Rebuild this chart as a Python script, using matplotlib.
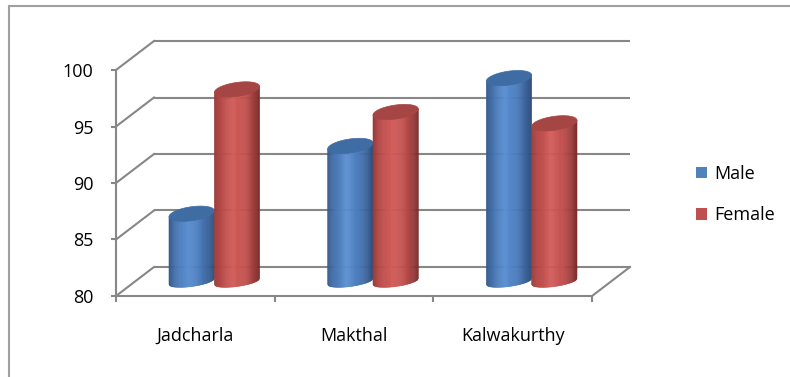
import numpy as np
import matplotlib
matplotlib.use("Agg")
import matplotlib.pyplot as plt
from matplotlib.collections import PolyCollection
from matplotlib.patches import Polygon, Rectangle, Patch

# ---- data ----
categories = ["Jadcharla", "Makthal", "Kalwakurthy"]
series_names = ["Male", "Female"]
male = [86, 92, 98]
female = [97, 95, 94]
y_ticks = [80, 85, 90, 95, 100]

# ---- style ----
plt.rcParams['font.family'] = ['Open Sans', 'DejaVu Sans']
FS = 13
GRID = '#878787'
legend_colors = ['#4F81BD', '#C0504D']
# cylinder shading stops (position, rgb)
shade_stops = [
    [(0.0, (52, 88, 140)), (0.15, (68, 114, 174)), (0.42, (90, 143, 210)),
     (0.7, (72, 121, 184)), (0.9, (56, 94, 148)), (1.0, (44, 76, 122))],
    [(0.0, (150, 58, 56)), (0.15, (182, 72, 70)), (0.42, (210, 92, 89)),
     (0.7, (192, 80, 77)), (0.9, (152, 58, 56)), (1.0, (118, 44, 43))],
]
top_colors = ['#3F6CA3', '#A64644']

W, H = 790, 377
fig = plt.figure(figsize=(W / 100, H / 100), dpi=100)
ax = fig.add_axes([116 / W, 81 / H, 476 / W, 226 / H])
ax.set_xlim(0, 3)
ax.set_ylim(80, 100)
ax.patch.set_alpha(0)

# depth offset (data units): back wall = front shifted right & up
DX = 38 / (476 / 3)
DY = 29 / (226 / 20)

ymin, ymax = y_ticks[0], y_ticks[-1]
ncat = len(categories)

# back wall gridlines + left wall diagonals
for v in y_ticks:
    ax.plot([DX, ncat + DX], [v + DY, v + DY], color=GRID, lw=1.5,
            clip_on=False, zorder=1, solid_capstyle='butt')
    ax.plot([0, DX], [v, v + DY], color=GRID, lw=1.5, clip_on=False, zorder=1)
# floor right edge
ax.plot([ncat, ncat + DX], [ymin, ymin + DY], color=GRID, lw=1.5,
        clip_on=False, zorder=1)

# spines / ticks
for s in ['top', 'right']:
    ax.spines[s].set_visible(False)
for s in ['left', 'bottom']:
    ax.spines[s].set_color(GRID)
    ax.spines[s].set_linewidth(1.5)
    ax.spines[s].set_zorder(1)
ax.set_yticks(y_ticks)
ax.set_yticklabels([str(v) for v in y_ticks])
ax.tick_params(axis='y', direction='out', length=3.6, width=1.5, color=GRID,
               pad=12.5, labelsize=FS, labelcolor='black')
ax.set_xticks(np.arange(ncat + 1))
ax.set_xticklabels([''] * (ncat + 1))
ax.tick_params(axis='x', which='major', direction='out', length=4.5,
               width=1.5, color=GRID)
ax.set_xticks(np.arange(ncat) + 0.5, minor=True)
ax.set_xticklabels(categories, minor=True)
ax.tick_params(axis='x', which='minor', length=0, pad=22.5,
               labelsize=FS, labelcolor='black')


def grad_color(stops, f):
    ps = [p for p, _ in stops]
    cs = np.array([c for _, c in stops], dtype=float)
    return tuple(np.interp(f, ps, cs[:, i]) / 255 for i in range(3))


# cylinders
w = 1 / 3.5
a = w / 2
b_top = 7 / (226 / 20)
b_bot = 5 / (226 / 20)
sh = 3 / (226 / 20)
N = 48
series = [male, female]
for i in range(ncat):
    for j, vals in enumerate(series):
        xc = i + 0.5 + (j - 0.5) * w + DX / 2
        y0 = ymin + DY / 2
        y1 = vals[i] + DY / 2
        z = 3 + j + i * 3
        edges = np.linspace(xc - a, xc + a, N + 1)
        polys, cols = [], []
        for k in range(N):
            xa, xb = edges[k], edges[k + 1]
            ta = np.arccos(np.clip((xa - xc) / a, -1, 1))
            tb = np.arccos(np.clip((xb - xc) / a, -1, 1))
            ya0 = y0 - b_bot * np.sin(ta) + sh * np.cos(ta)
            yb0 = y0 - b_bot * np.sin(tb) + sh * np.cos(tb)
            ya1 = y1 + sh * np.cos(ta)
            yb1 = y1 + sh * np.cos(tb)
            polys.append([(xa, ya0), (xb, yb0), (xb, yb1), (xa, ya1)])
            cols.append(grad_color(shade_stops[j], (k + 0.5) / N))
        pc = PolyCollection(polys, facecolors=cols, edgecolors=cols,
                            linewidths=0.4, clip_on=False, zorder=z)
        ax.add_collection(pc)
        t = np.linspace(0, 2 * np.pi, 120)
        ell = np.column_stack([xc + a * np.cos(t),
                               y1 + b_top * np.sin(t) + sh * np.cos(t)])
        ax.add_patch(Polygon(ell, closed=True, facecolor=top_colors[j],
                             edgecolor=top_colors[j], lw=0.5,
                             clip_on=False, zorder=z + 0.5))

ax.set_xlim(0, 3)
ax.set_ylim(80, 100)

# legend
handles = [Patch(facecolor=c, edgecolor='none') for c in legend_colors]
fig.legend(handles, series_names, loc='upper left',
           bbox_to_anchor=(696 / W, 1 - 165 / H), bbox_transform=fig.transFigure,
           frameon=False, fontsize=FS, handlelength=0.6, handleheight=0.58,
           handletextpad=0.4, labelspacing=1.3, borderpad=0, borderaxespad=0)

# outer frame
fig.patches.append(Rectangle((9 / W, -0.1), 1.2, (H - 6) / H + 0.1,
                             transform=fig.transFigure, fill=False,
                             edgecolor='#a0a0a0', lw=1.5))

fig.savefig('out.png', dpi=100)
